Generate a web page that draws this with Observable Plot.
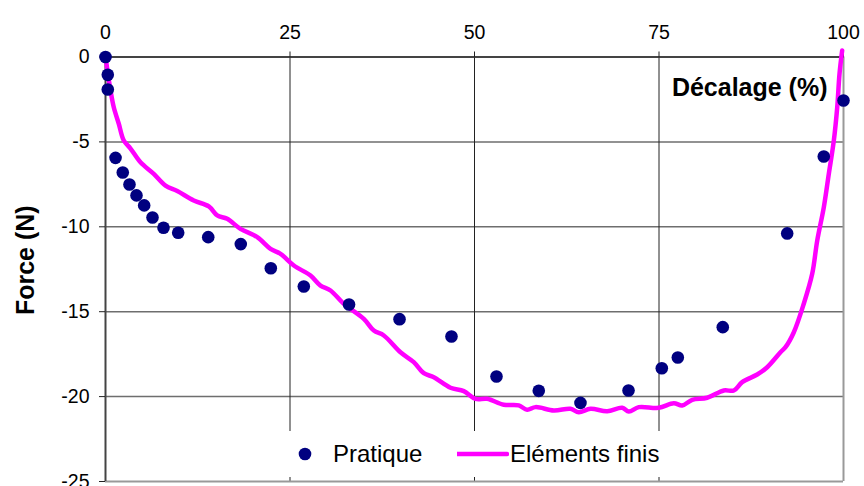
<!DOCTYPE html>
<html>
<head>
<meta charset="utf-8">
<script src="https://cdn.jsdelivr.net/npm/d3@7"></script>
<script src="https://cdn.jsdelivr.net/npm/@observablehq/plot@0.6"></script>
<style>
  html, body { margin: 0; padding: 0; background: #fff; }
  #wrap { position: relative; width: 864px; height: 486px; font-family: "Liberation Sans", Arial, sans-serif; }
  #legend { position: absolute; left: 280px; top: 431px; width: 405px; height: 46px; background: #fff; }
  #legend .item { position: absolute; top: 0; height: 46px; display: flex; align-items: center; font-size: 24px; color: #000; }
</style>
</head>
<body>
<div id="wrap"></div>
<script>
// Pratique (measured points)
const pratiqueX = [0,0.31,0.31,1.36,2.34,3.25,4.2,5.24,6.37,7.86,9.85,13.92,18.33,22.4,26.87,33.0,39.84,46.88,52.98,58.71,64.36,70.87,75.38,77.55,83.64,92.37,97.33,100];
const pratiqueY = [0,-1.05,-1.91,-5.94,-6.80,-7.51,-8.15,-8.74,-9.45,-10.06,-10.35,-10.61,-11.02,-12.44,-13.52,-14.58,-15.44,-16.46,-18.82,-19.66,-20.37,-19.64,-18.33,-17.70,-15.91,-10.39,-5.86,-2.56];

// Eléments finis (simulation curve)
const finisX = [0,0.68,1.12,1.80,2.48,3.39,4.74,6.54,8.13,9.72,11.96,14.0,15.14,16.49,18.29,20.56,22.36,23.71,25.52,27.78,29.13,30.49,32.29,35.0,36.36,37.71,39.97,41.77,43.13,44.49,46.75,48.55,50.14,51.72,53.97,56.0,57.14,58.27,60.75,63.01,64.13,65.72,67.98,70.01,70.91,72.26,74.97,77.0,78.14,79.5,81.53,83.78,85.14,86.27,88.31,89.66,91.46,92.14,93.27,94.62,95.76,96.44,97.33,98.01,98.69,99.15,99.46,99.82];
const finisY = [0,-1.97,-2.96,-3.93,-4.92,-5.39,-6.20,-6.88,-7.57,-7.89,-8.45,-8.80,-9.33,-9.53,-10.12,-10.61,-11.30,-11.59,-12.28,-12.87,-13.46,-13.75,-14.53,-15.42,-16.11,-16.40,-17.39,-17.97,-18.62,-18.86,-19.48,-19.68,-20.13,-20.13,-20.48,-20.52,-20.78,-20.62,-20.82,-20.72,-20.92,-20.72,-20.86,-20.66,-20.88,-20.62,-20.66,-20.39,-20.52,-20.19,-20.07,-19.64,-19.64,-19.15,-18.70,-18.27,-17.39,-17.09,-16.21,-14.53,-12.77,-10.81,-8.85,-6.88,-4.92,-2.96,-0.99,0.38];

const xTicks = [0, 25, 50, 75, 100];
const yTicks = [0, -5, -10, -15, -20, -25];
const yGrid = [-5, -10, -15, -20];
const xGrid = [25, 50, 75];
const xTitle = "Décalage (%)";
const yTitle = "Force (N)";
const seriesNames = ["Pratique", "Eléments finis"];
const colors = ["#000080", "#FF00FF"];

const pratique = pratiqueX.map((x, i) => ({x, y: pratiqueY[i]}));
const finis = finisX.map((x, i) => ({x, y: finisY[i]}));

const chart = Plot.plot({
  width: 864,
  height: 486,
  marginLeft: 105,
  marginRight: 21,
  marginTop: 56.5,
  marginBottom: 5,
  style: {fontFamily: "'Liberation Sans', Arial, sans-serif", fontSize: "19px", background: "#fff", color: "#000"},
  x: {domain: [0, 100]},
  y: {domain: [-25, 0]},
  marks: [
    Plot.ruleY(yGrid, {stroke: "#6e6e6e", strokeWidth: 1.5}),
    Plot.ruleX(xGrid, {y1: -25, y2: 0, stroke: "#222", strokeWidth: 1}),
    Plot.ruleX([100], {y1: -25, y2: 0, stroke: "#999", strokeWidth: 2}),
    Plot.ruleY([-25], {x1: 0, x2: 100, stroke: "#999", strokeWidth: 2}),
    Plot.ruleY([0], {x1: 0, x2: 100, stroke: "#444", strokeWidth: 2}),
    Plot.ruleX([0], {y1: -25, y2: 0, stroke: "#444", strokeWidth: 2}),
    Plot.axisX({anchor: "top", ticks: xTicks, tickSize: 6, tickPadding: 12, tickFormat: d => String(d), label: null, fontSize: 19.5, stroke: "#222"}),
    Plot.axisY({anchor: "left", ticks: yTicks, tickSize: 6, tickPadding: 10, tickFormat: d => String(d), label: null, fontSize: 19.5, stroke: "#222"}),
    Plot.line(finis, {x: "x", y: "y", stroke: colors[1], strokeWidth: 4.5, curve: "catmull-rom"}),
    Plot.dot(pratique, {x: "x", y: "y", r: 6.3, fill: colors[0], stroke: "none"}),
    Plot.text([xTitle], {frameAnchor: "top-right", textAnchor: "end", lineAnchor: "top", dx: -16, dy: 21, fontSize: 25, fontWeight: "bold"}),
    Plot.text([yTitle], {frameAnchor: "left", rotate: -90, textAnchor: "middle", lineAnchor: "middle", dx: -80, dy: -9, fontSize: 25, fontWeight: "bold"})
  ]
});

const wrap = document.getElementById("wrap");
wrap.appendChild(chart);

const legend = document.createElement("div");
legend.id = "legend";
legend.innerHTML = `
  <div class="item" style="left:18px"><svg width="14" height="14" style="margin-right:21px"><circle cx="7" cy="7" r="6.3" fill="${colors[0]}"/></svg>${seriesNames[0]}</div>
  <div class="item" style="left:177px"><svg width="52" height="10" style="margin-right:1px"><line x1="0" y1="5" x2="50" y2="5" stroke="${colors[1]}" stroke-width="4.5" stroke-linecap="round"/></svg>${seriesNames[1]}</div>`;
wrap.appendChild(legend);
</script>
</body>
</html>
